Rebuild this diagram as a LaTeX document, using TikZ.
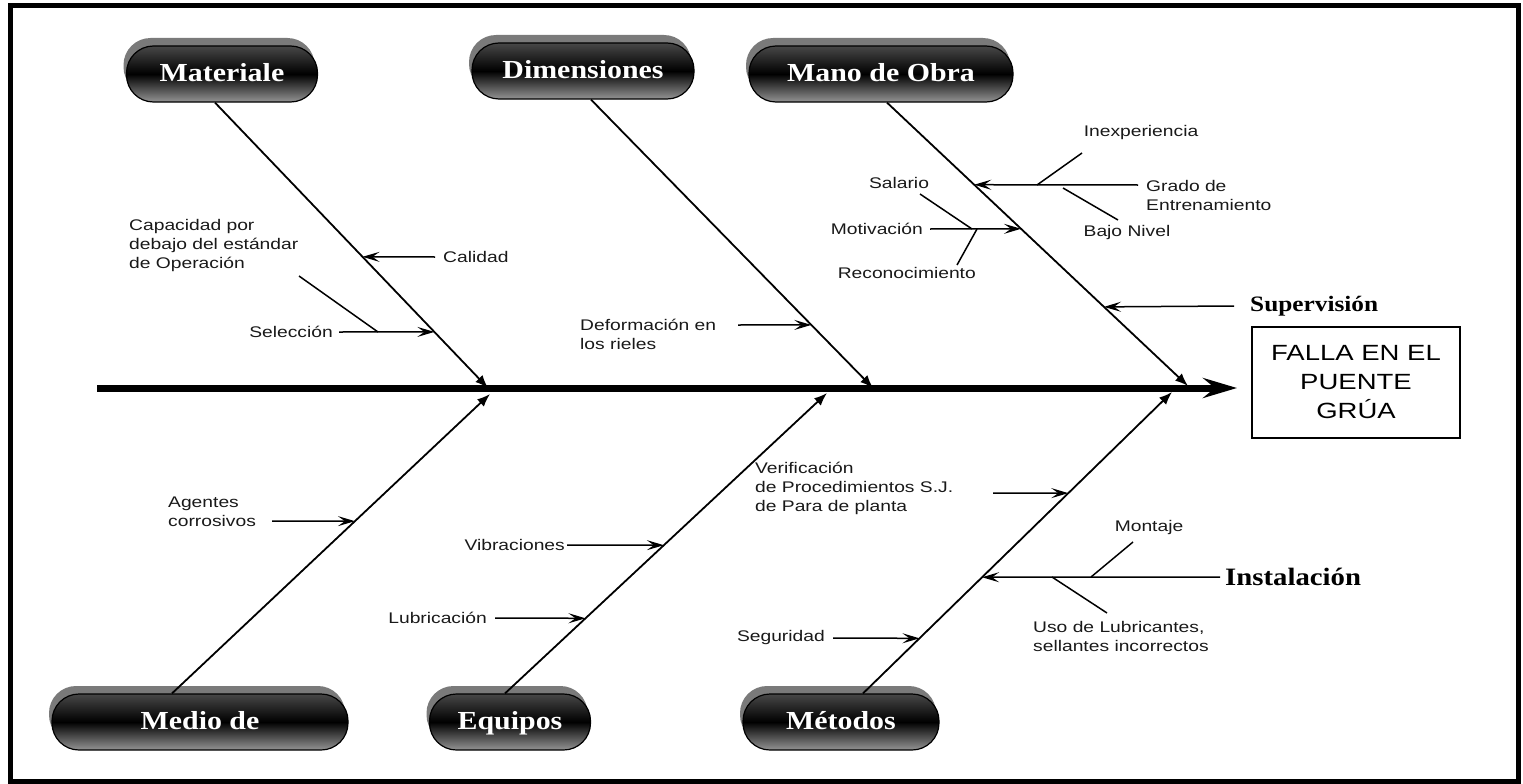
\documentclass[tikz,border=0pt]{standalone}
\usepackage{fontspec}
\usetikzlibrary{arrows.meta,calc,shadows}
\newfontfamily\lblfamily[FakeStretch=1.25]{Liberation Sans}
\newfontfamily\catfamily[FakeStretch=1.15]{Liberation Serif}
\newcommand{\lblfont}{\lblfamily\fontsize{15.4}{19}\selectfont}
\newcommand{\catfont}[1]{\catfamily\bfseries\fontsize{#1}{#1}\selectfont}

\begin{document}
\begin{tikzpicture}[x=1pt,y=-1pt,
  catbox/.style={rounded corners=27pt, draw=black, line width=1.2pt,
    top color=black!72, bottom color=black!42, middle color=black,
    minimum height=56pt, text=white, inner sep=0pt, font={\catfont{26}},
    text depth=3pt,
    drop shadow={shadow xshift=-3pt, shadow yshift=8pt, fill=black!52, opacity=1}},
  lbl/.style={font=\lblfont, inner sep=2pt, align=left, text=black!90},
  headlbl/.style={font={\catfont{22}}, inner sep=2pt, text=black},
  cause/.style={line width=1.5pt, -{Stealth[length=17pt,width=10pt,inset=7pt]}},
  twig/.style={line width=1.5pt},
  rib/.style={line width=1.8pt, -{Latex[length=13pt,width=10pt]}},
  spine/.style={line width=7pt, -{Stealth[length=34pt,width=20pt,inset=12pt]}},
  effect/.style={draw, line width=1.3pt, minimum width=208pt, minimum height=111pt,
    align=center, font={\lblfamily\fontsize{22}{29}\selectfont}, inner sep=0pt}
]
\useasboundingbox (0,0) rectangle (1523,784);
\draw[line width=5pt] (10.5,5.5) rectangle (1518.5,781.5);

% effect box and spine
\node[effect] (falla) at (1356,382.5) {FALLA EN EL\\PUENTE\\GRÚA};
\coordinate (tail) at (97,388);
\coordinate (head) at (1237,388);
\draw[spine] (tail) -- (head);

% category boxes
\node[catbox, minimum width=191pt] (matbox) at (222,74) {Materiale};
\node[catbox, minimum width=222pt] (dimbox) at (583,71) {Dimensiones};
\node[catbox, minimum width=264pt] (manbox) at (881,74) {Mano de Obra};
\node[catbox, minimum width=296pt] (medbox) at (200,722) {Medio de};
\node[catbox, minimum width=161pt] (equbox) at (510,722) {Equipos};
\node[catbox, minimum width=196pt] (metbox) at (841,722) {Métodos};

% ribs
\coordinate (matA) at ([xshift=-7pt]matbox.south);
\coordinate (matB) at (488,388);
\coordinate (dimA) at ([xshift=8pt]dimbox.south);
\coordinate (dimB) at (873,388);
\coordinate (manA) at ([xshift=6pt]manbox.south);
\coordinate (manB) at (1188,386);
\coordinate (medA) at ([xshift=-28pt]medbox.north);
\coordinate (medB) at (490,394);
\coordinate (equA) at ([xshift=-5pt]equbox.north);
\coordinate (equB) at (827,393);
\coordinate (metA) at ([xshift=22pt]metbox.north);
\coordinate (metB) at (1172,392);
\foreach \r in {mat,dim,man,med,equ,met}
  \draw[rib] (\r A) -- (\r B);

% points where the causes meet the ribs
\coordinate (calidT) at ($(matA)!{(257-103)/285}!(matB)$);
\coordinate (selecT) at ($(matA)!{(332-103)/285}!(matB)$);
\coordinate (deforT) at ($(dimA)!{(325-100)/288}!(dimB)$);
\coordinate (gradoT) at ($(manA)!{(185-103)/283}!(manB)$);
\coordinate (motivT) at ($(manA)!{(229-103)/283}!(manB)$);
\coordinate (supervT) at ($(manA)!{(307-103)/283}!(manB)$);
\coordinate (agentT) at ($(medA)!{(693-521)/299}!(medB)$);
\coordinate (vibraT) at ($(equA)!{(693-545)/300}!(equB)$);
\coordinate (lubriT) at ($(equA)!{(693-618)/300}!(equB)$);
\coordinate (verifT) at ($(metA)!{(693-493)/301}!(metB)$);
\coordinate (instalT) at ($(metA)!{(693-577)/301}!(metB)$);
\coordinate (segurT) at ($(metA)!{(693-638)/301}!(metB)$);

% Materiale
\node[lbl, anchor=west] (capa) at (127,246) {Capacidad por\\debajo del estándar\\de Operación};
\node[lbl, anchor=east] (selec) at (335,332) {Selección};
\node[lbl, anchor=west] (calid) at (441,257) {Calidad};
\draw[cause] ([xshift=-6pt]calid.west) -- (calidT);
\draw[cause] ([xshift=4pt]selec.east) -- (selecT);
\coordinate (capaS) at (299,276);
\coordinate (capaE) at (378,332);
\draw[twig] (capaS) -- (capaE);

% Dimensiones
\node[lbl, anchor=west] (defor) at (578,334) {Deformación en\\los rieles};
\coordinate (deforS) at (738,325);
\draw[cause] (deforS) -- (deforT);

% Mano de Obra
\node[lbl, anchor=west] (grado) at (1144,195.5) {Grado de\\Entrenamiento};
\coordinate (gradoS) at (1138,185);
\draw[cause] (gradoS) -- (gradoT);
\node[lbl] (inexp) at (1141,133) {Inexperiencia};
\coordinate (inexpA) at (1037,185);
\coordinate (inexpB) at (1082,153);
\draw[twig] (inexpA) -- (inexpB);
\node[lbl] (bajo) at (1127,233) {Bajo Nivel};
\coordinate (bajoA) at (1063,188);
\coordinate (bajoB) at (1118,220);
\draw[twig] (bajoA) -- (bajoB);
\node[lbl, anchor=east] (motiv) at (925,229) {Motivación};
\draw[cause] ([xshift=5pt]motiv.east) -- (motivT);
\node[lbl] (salar) at (899,183) {Salario};
\coordinate (salarA) at (920,194);
\coordinate (salarB) at (972,229);
\draw[twig] (salarA) -- (salarB);
\node[lbl, anchor=east] (recon) at (978,273) {Reconocimiento};
\coordinate (reconA) at (977,229);
\coordinate (reconB) at (957,265);
\draw[twig] (reconA) -- (reconB);
\node[headlbl, anchor=west] (superv) at (1248,306) {Supervisión};
\draw[cause] ([xshift=-14pt]superv.west) -- (supervT);

% Medio de
\node[lbl, anchor=west] (agent) at (166,512) {Agentes\\corrosivos};
\coordinate (agentS) at (272,521);
\draw[cause] (agentS) -- (agentT);

% Equipos
\node[lbl, anchor=east] (vibra) at (567,545) {Vibraciones};
\draw[cause] (vibra.east) -- (vibraT);
\node[lbl, anchor=east] (lubri) at (489,618) {Lubricación};
\draw[cause] ([xshift=6pt]lubri.east) -- (lubriT);

% Métodos
\node[lbl, anchor=west] (verif) at (753,488) {Verificación\\de Procedimientos S.J.\\de Para de planta};
\coordinate (verifS) at (993,493);
\draw[cause] (verifS) -- (verifT);
\node[lbl, anchor=east] (segur) at (827,638) {Seguridad};
\draw[cause] ([xshift=6pt]segur.east) -- (segurT);
\node[headlbl, font={\catfont{25}}, anchor=west] (instal) at (1223,577) {Instalación};
\draw[cause] ([xshift=-3pt]instal.west) -- (instalT);
\node[lbl] (monta) at (1149,528) {Montaje};
\coordinate (montaA) at (1091,577);
\coordinate (montaB) at (1133,542);
\draw[twig] (montaA) -- (montaB);
\node[lbl, anchor=west] (uso) at (1031,636) {Uso de Lubricantes,\\sellantes incorrectos};
\coordinate (usoA) at (1052,577);
\coordinate (usoB) at (1107,613);
\draw[twig] (usoA) -- (usoB);
\end{tikzpicture}
\end{document}
